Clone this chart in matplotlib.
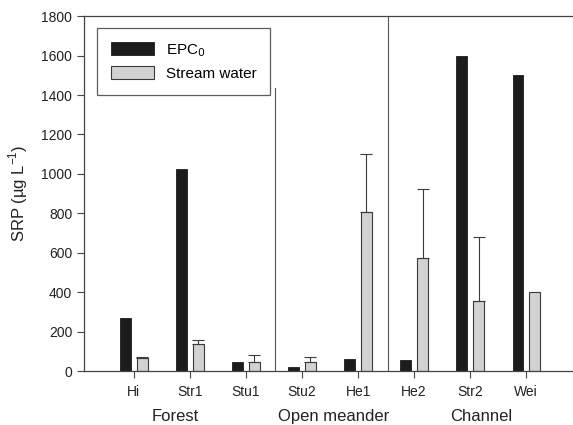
import numpy as np
import matplotlib.pyplot as plt

plt.rcParams['font.family'] = ['Liberation Sans', 'DejaVu Sans']

# site data (ug/L)
sites = ['Hi', 'Str1', 'Stu1', 'Stu2', 'He1', 'He2', 'Str2', 'Wei']
epc0 = [270, 1025, 45, 20, 60, 55, 1600, 1500]
stream = [65, 135, 48, 45, 805, 575, 355, 400]
stream_err = [5, 22, 33, 25, 295, 350, 325, 0]
groups = ['Forest', 'Open meander', 'Channel']
group_pos = [0.73, 3.57, 6.2]

fig = plt.figure(figsize=(5.73, 4.25), dpi=100)
ax = fig.add_axes([0.1466, 0.127, 0.852, 0.835])

x = np.arange(len(sites))
w = 0.19
off = 0.15
ax.bar(x - off, epc0, w, color='#1c1c1c', edgecolor='#1c1c1c', linewidth=0.6, label='EPC$_0$')
ax.bar(x + off, stream, w, color='#d2d2d2', edgecolor='#3a3a3a', linewidth=0.8, label='Stream water')
err = np.array(stream_err)
mask = err > 0
ax.errorbar((x + off)[mask], np.array(stream)[mask], yerr=[np.zeros(mask.sum()), err[mask]],
            fmt='none', ecolor='#3a3a3a', elinewidth=0.8, capsize=4, capthick=0.8)

# group dividers
ax.plot([2.52, 2.52], [0, 1435], color='#555555', lw=0.8)
ax.axvline(4.54, color='#555555', lw=0.8)

ax.set_xlim(-0.89, 7.82)
ax.set_ylim(0, 1800)
ax.set_yticks(range(0, 1801, 200))
ax.set_xticks(x)
ax.set_xticklabels(sites)
ax.spines['right'].set_visible(False)
for s in ['left', 'top', 'bottom']:
    ax.spines[s].set_color('#444444')
    ax.spines[s].set_linewidth(0.9)
ax.tick_params(direction='out', length=5, width=0.8, color='#444444', labelsize=10, labelcolor='#222222')
ax.tick_params(axis='x', pad=5)
ax.set_ylabel('SRP (µg L$^{\\mathregular{-1}}$)', fontsize=12, color='#222222', labelpad=8)

for g, p in zip(groups, group_pos):
    ax.text(p, -0.127, g, transform=ax.get_xaxis_transform(), ha='center', va='center',
            fontsize=12, color='#222222')

leg = ax.legend(loc='upper left', bbox_to_anchor=(0.027, 0.966), borderaxespad=0, fontsize=11,
                frameon=True, fancybox=False, edgecolor='#333333', handlelength=2.8,
                handleheight=0.9, borderpad=0.9, labelspacing=0.5)
leg.get_frame().set_linewidth(0.9)

fig.savefig('out.png', dpi=100)
